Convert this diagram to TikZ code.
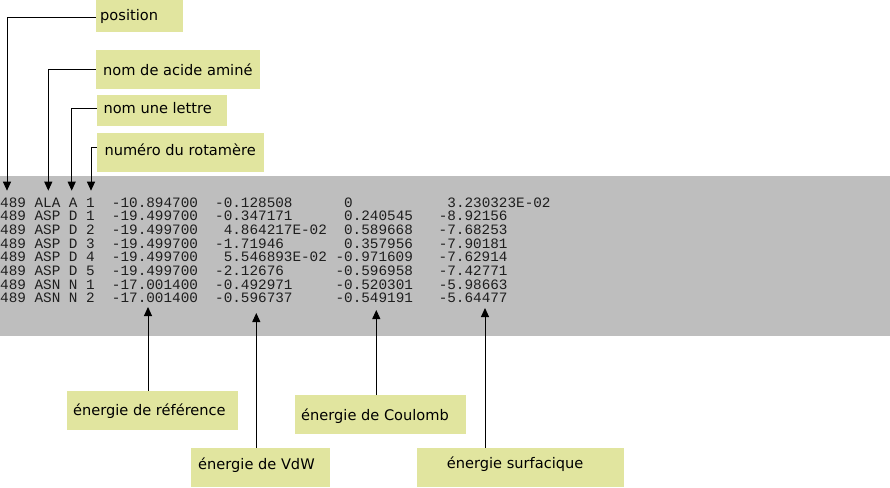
\documentclass[tikz,border=0pt]{standalone}
\usepackage{fontspec}
\setmainfont{DejaVu Sans}
\newfontfamily\monof{Liberation Mono}
\usetikzlibrary{arrows.meta}
\definecolor{boxy}{RGB}{225,229,159}
\definecolor{panel}{RGB}{190,190,190}
\definecolor{ink}{RGB}{30,30,30}
\newlength\cw \setlength\cw{8.6pt}
\newcommand\pp{\phantom{-}}
\newcommand\datarow[8]{\makebox[4\cw][l]{#1}\makebox[4\cw][l]{#2}\makebox[2\cw][l]{#3}\makebox[3\cw][l]{#4}\makebox[12\cw][l]{#5}\makebox[14\cw][l]{#6}\makebox[12\cw][l]{#7}#8}
\tikzset{
  ybox/.style={fill=boxy, draw=none, inner sep=0pt, anchor=north west},
  lbl/.style={anchor=base west, inner sep=0pt, font=\fontsize{14.6}{17}\selectfont, text=black},
  rowtxt/.style={anchor=base west, inner sep=0pt, font=\monof\fontsize{14.33}{14}\selectfont, text=ink},
  arr/.style={draw=black, line width=1pt, -{Triangle[width=8pt,length=9pt]}}
}
\begin{document}
\begin{tikzpicture}[x=1pt,y=-1pt]
\useasboundingbox (0,0) rectangle (890,487);
\fill[panel] (0,176) rectangle (890,336);
% top boxes
\node[ybox, minimum width=87pt, minimum height=32.3pt] (posbox) at (95.7,0) {};
\node[ybox, minimum width=163.6pt, minimum height=38.3pt] (acidbox) at (95.7,50) {};
\node[ybox, minimum width=130.3pt, minimum height=30.3pt] (letbox) at (96.7,95) {};
\node[ybox, minimum width=166.6pt, minimum height=38.6pt] (rotbox) at (96.7,132.7) {};
\node[lbl] (postxt) at (100,20.5) {position};
\node[lbl] (acidtxt) at (103,75) {nom de acide aminé};
\node[lbl] (lettxt) at (103.3,113.3) {nom une lettre};
\node[lbl] (rottxt) at (104.3,155) {numéro du rotamère};
% bottom boxes
\node[ybox, minimum width=170.7pt, minimum height=38.3pt] (refbox) at (67,391) {};
\node[ybox, minimum width=138.3pt, minimum height=39.3pt] (vdwbox) at (191,447.7) {};
\node[ybox, minimum width=170.7pt, minimum height=38.3pt] (coulbox) at (295,395) {};
\node[ybox, minimum width=206.3pt, minimum height=39pt] (surfbox) at (417,448) {};
\node[lbl] (reftxt) at (73,415.7) {énergie de référence};
\node[lbl] (vdwtxt) at (198,469.3) {énergie de VdW};
\node[lbl] (coultxt) at (301,420) {énergie de Coulomb};
\node[lbl] (surftxt) at (446.7,468.3) {énergie surfacique};
% data rows
\node[rowtxt] (r1) at (0,207) {\datarow{489}{ALA}{A}{1}{-10.894700}{-0.128508}{\pp0}{\pp3.230323E-02}};
\node[rowtxt] (r2) at (0,220.7) {\datarow{489}{ASP}{D}{1}{-19.499700}{-0.347171}{\pp0.240545}{-8.92156}};
\node[rowtxt] (r3) at (0,234.4) {\datarow{489}{ASP}{D}{2}{-19.499700}{\pp4.864217E-02}{\pp0.589668}{-7.68253}};
\node[rowtxt] (r4) at (0,248.1) {\datarow{489}{ASP}{D}{3}{-19.499700}{-1.71946}{\pp0.357956}{-7.90181}};
\node[rowtxt] (r5) at (0,261.8) {\datarow{489}{ASP}{D}{4}{-19.499700}{\pp5.546893E-02}{-0.971609}{-7.62914}};
\node[rowtxt] (r6) at (0,275.5) {\datarow{489}{ASP}{D}{5}{-19.499700}{-2.12676}{-0.596958}{-7.42771}};
\node[rowtxt] (r7) at (0,289.2) {\datarow{489}{ASN}{N}{1}{-17.001400}{-0.492971}{-0.520301}{-5.98663}};
\node[rowtxt] (r8) at (0,302.9) {\datarow{489}{ASN}{N}{2}{-17.001400}{-0.596737}{-0.549191}{-5.64477}};
% arrow tips
\coordinate (tipA) at (7,190.7);
\coordinate (tipB) at (48.3,190.7);
\coordinate (tipC) at (71.7,190.7);
\coordinate (tipD) at (91,190.7);
\coordinate (tipE) at (148,307);
\coordinate (tipF) at (256.3,313);
\coordinate (tipG) at (376.3,310);
\coordinate (tipH) at (485,308);
% connectors
\draw[arr] ([yshift=-1.5pt]posbox.west) -| (tipA);
\draw[arr] (acidbox.west) -| (tipB);
\draw[arr] ([yshift=1.9pt]letbox.west) -| (tipC);
\draw[arr] ([yshift=4.3pt]rotbox.west) -| (tipD);
\draw[arr] (refbox.north -| tipE) -- (tipE);
\draw[arr] (vdwbox.north -| tipF) -- (tipF);
\draw[arr] (coulbox.north -| tipG) -- (tipG);
\draw[arr] (surfbox.north -| tipH) -- (tipH);
\end{tikzpicture}
\end{document}
